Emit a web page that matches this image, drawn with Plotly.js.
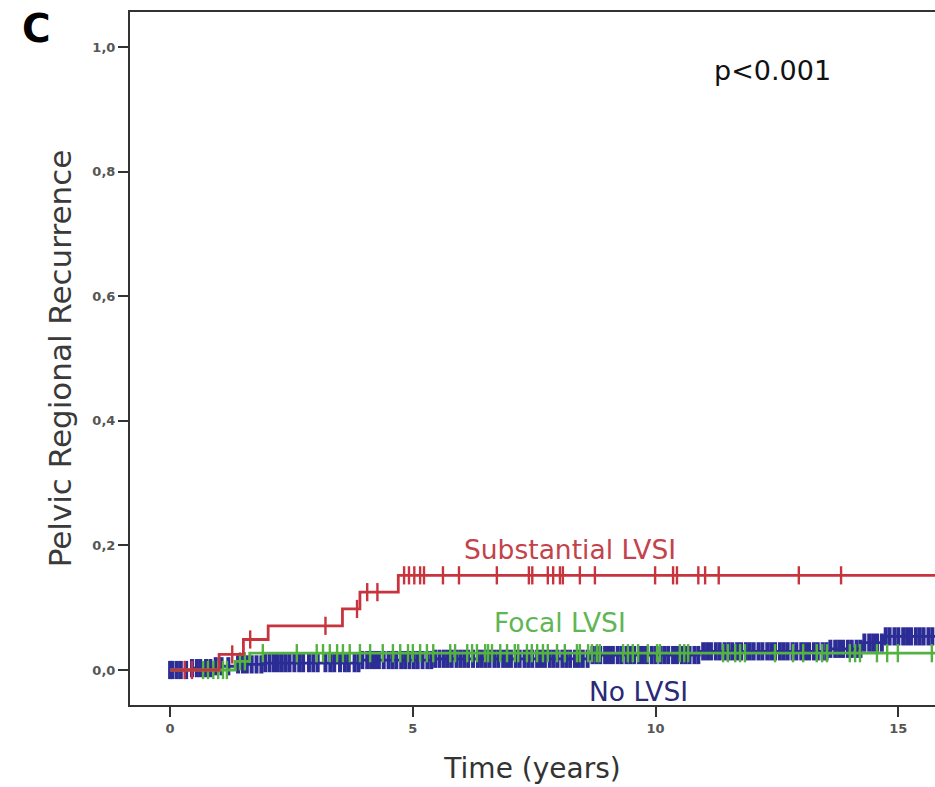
<!DOCTYPE html>
<html>
<head>
<meta charset="utf-8">
<script src="https://cdn.plot.ly/plotly-3.0.1.min.js"></script>
<style>html,body{margin:0;padding:0;background:#fff;}#chart{width:935px;height:787px;}</style>
</head>
<body>
<div id="chart"></div>
<script>
// ---- Data (cumulative incidence, step functions) ----
var xTickVals = [0, 5, 10, 15];
var xTickText = ['0', '5', '10', '15'];
var yTickVals = [0, 0.2, 0.4, 0.6, 0.8, 1.0];
var yTickText = ['0,0', '0,2', '0,4', '0,6', '0,8', '1,0'];

// Substantial LVSI
var subT = [0, 1.01, 1.51, 2.02, 3.55, 3.91, 4.70, 15.8];
var subY = [0, 0.025, 0.049, 0.071, 0.098, 0.125, 0.152, 0.152];
var subCens = [0.30, 0.45, 1.28, 1.65, 3.20, 3.85, 4.06, 4.27, 4.82, 4.92, 5.03, 5.15, 5.23, 5.62, 5.95, 6.73,
  7.39, 7.46, 7.78, 7.89, 8.03, 8.09, 8.44, 8.75, 9.99, 10.36, 10.44, 10.88, 11.02, 11.30, 12.95, 13.82];

// Focal LVSI
var focT = [0, 1.34, 1.64, 15.8];
var focY = [0, 0.014, 0.027, 0.027];
var focCens = [0.68, 0.78, 0.89, 0.99, 1.09, 1.17, 1.44, 1.54, 1.91, 2.61, 3.02, 3.15, 3.29, 3.44, 3.56, 3.70,
  3.91, 4.12, 4.38, 4.59, 4.74, 4.90, 5.00, 5.15, 5.29, 5.42, 5.77, 5.87, 6.12, 6.22, 6.32, 6.49, 6.55, 6.63,
  6.80, 6.94, 7.10, 7.17, 7.35, 7.45, 7.56, 7.68, 7.78, 7.97, 8.13, 8.38, 8.44, 8.61, 8.69, 8.79, 8.85, 9.33,
  9.43, 9.53, 9.64, 9.84, 10.03, 10.09, 10.50, 10.59, 10.67, 11.39, 11.49, 11.64, 11.74, 11.84, 12.46, 12.83,
  13.04, 13.32, 13.43, 13.53, 14.00, 14.11, 14.21, 14.56, 14.77, 14.99, 15.69];

// No LVSI
var noT = [0, 0.45, 0.90, 1.35, 1.90, 3.90, 5.40, 8.66, 10.90, 13.60, 14.27, 14.70, 15.8];
var noY = [0, 0.003, 0.006, 0.009, 0.011, 0.016, 0.018, 0.024, 0.030, 0.034, 0.044, 0.054, 0.054];
var noCens = [0.00, 0.05, 0.14, 0.22, 0.33, 0.45, 0.55, 0.62, 0.74, 0.83, 0.94, 1.06, 1.20, 1.40, 1.50, 1.58,
  1.68, 1.78, 1.88, 1.96, 2.05, 2.14, 2.22, 2.30, 2.38, 2.46, 2.56, 2.66, 2.74, 2.86, 2.95, 3.04, 3.20, 3.30,
  3.38, 3.50, 3.60, 3.68, 3.80, 3.88, 3.96, 4.06, 4.14, 4.22, 4.30, 4.40, 4.50, 4.58, 4.66, 4.76, 4.84, 4.93,
  5.02, 5.10, 5.20, 5.30, 5.38, 5.46, 5.55, 5.64, 5.72, 5.80, 5.90, 5.98, 6.06, 6.14, 6.24, 6.34, 6.42, 6.50,
  6.58, 6.68, 6.76, 6.86, 6.94, 7.02, 7.12, 7.20, 7.30, 7.38, 7.46, 7.56, 7.64, 7.72, 7.82, 7.90, 7.98, 8.08,
  8.16, 8.24, 8.34, 8.42, 8.50, 8.60, 8.70, 8.78, 8.86, 8.96, 9.04, 9.12, 9.22, 9.30, 9.40, 9.48, 9.56, 9.66,
  9.74, 9.82, 9.92, 10.00, 10.10, 10.18, 10.26, 10.36, 10.44, 10.54, 10.62, 10.70, 10.80, 10.88, 10.98, 11.06,
  11.14, 11.24, 11.32, 11.42, 11.50, 11.58, 11.68, 11.76, 11.86, 11.94, 12.02, 12.12, 12.20, 12.30, 12.38,
  12.46, 12.56, 12.64, 12.72, 12.82, 12.90, 13.00, 13.08, 13.16, 13.26, 13.34, 13.44, 13.52, 13.60, 13.70,
  13.78, 13.86, 13.96, 14.04, 14.14, 14.22, 14.30, 14.40, 14.48, 14.56, 14.66, 14.74, 14.82, 14.92, 15.00,
  15.10, 15.18, 15.26, 15.36, 15.44, 15.52, 15.62, 15.70];

// ---- helpers ----
function stepAt(ts, ys, t) {
  var v = ys[0];
  for (var i = 0; i < ts.length; i++) { if (ts[i] <= t) v = ys[i]; }
  return v;
}
function censY(ts, ys, cs) { return cs.map(function (c) { return stepAt(ts, ys, c); }); }

var RED = 'rgb(200,52,62)', GREEN = 'rgb(84,178,64)', BLUE = 'rgb(44,44,150)';

function lineTrace(ts, ys, col, name) {
  return { x: ts, y: ys, type: 'scatter', mode: 'lines', name: name,
    line: { shape: 'hv', color: col, width: 2.8 }, hoverinfo: 'skip' };
}
function censTrace(ts, ys, cs, col, w, name) {
  return { x: cs, y: censY(ts, ys, cs), type: 'scatter', mode: 'markers', name: name + ' censored',
    marker: { symbol: 'line-ns-open', size: 13, color: col, line: { color: col, width: w } }, hoverinfo: 'skip' };
}

var traces = [
  lineTrace(noT, noY, BLUE, 'No LVSI'),
  censTrace(noT, noY, noCens, BLUE, 4, 'No LVSI'),
  lineTrace(focT, focY, GREEN, 'Focal LVSI'),
  censTrace(focT, focY, focCens, GREEN, 2.4, 'Focal LVSI'),
  lineTrace(subT, subY, RED, 'Substantial LVSI'),
  censTrace(subT, subY, subCens, RED, 2.4, 'Substantial LVSI')
];

var tickFont = { family: 'DejaVu Sans', size: 13, color: '#555', weight: 'bold' };
var layout = {
  width: 935, height: 787,
  margin: { l: 130, r: 0, t: 12, b: 82 },
  paper_bgcolor: '#fff', plot_bgcolor: '#fff',
  showlegend: false,
  xaxis: {
    range: [-0.826, 15.755], showgrid: false, zeroline: false,
    showline: true, linecolor: '#333', linewidth: 2, mirror: true,
    ticks: 'outside', ticklen: 10, tickwidth: 2, tickcolor: '#333',
    tickvals: xTickVals, ticktext: xTickText, tickfont: tickFont,
    title: { text: 'Time (years)', font: { family: 'DejaVu Sans', size: 28, color: '#333' }, standoff: 24 }
  },
  yaxis: {
    range: [-0.0562, 1.0566], showgrid: false, zeroline: false,
    showline: true, linecolor: '#333', linewidth: 2, mirror: false,
    ticks: 'outside', ticklen: 10, tickwidth: 2, tickcolor: '#333',
    tickvals: yTickVals, ticktext: yTickText, tickfont: tickFont,
    title: { text: 'Pelvic Regional Recurrence', font: { family: 'DejaVu Sans', size: 31, color: '#3a3a3a' }, standoff: 12 }
  },
  annotations: [
    { xref: 'paper', yref: 'paper', x: (36 - 130) / 805, y: (705 - 29) / 693, text: '<b>C</b>', showarrow: false,
      font: { family: 'DejaVu Sans', size: 39, color: '#000' }, xanchor: 'center', yanchor: 'middle' },
    { x: 12.4, y: 0.963, text: 'p<0.001', showarrow: false,
      font: { family: 'DejaVu Sans', size: 27, color: '#111' }, xanchor: 'center', yanchor: 'middle' },
    { x: 8.24, y: 0.194, text: 'Substantial LVSI', showarrow: false,
      font: { family: 'DejaVu Sans', size: 26.5, color: 'rgb(196,66,74)' }, xanchor: 'center', yanchor: 'middle' },
    { x: 8.03, y: 0.077, text: 'Focal LVSI', showarrow: false,
      font: { family: 'DejaVu Sans', size: 26.5, color: 'rgb(96,182,82)' }, xanchor: 'center', yanchor: 'middle' },
    { x: 9.64, y: -0.034, text: 'No LVSI', showarrow: false,
      font: { family: 'DejaVu Sans', size: 26.5, color: 'rgb(42,42,118)' }, xanchor: 'center', yanchor: 'middle' }
  ]
};

Plotly.newPlot('chart', traces, layout, { staticPlot: true, displayModeBar: false });
</script>
</body>
</html>
